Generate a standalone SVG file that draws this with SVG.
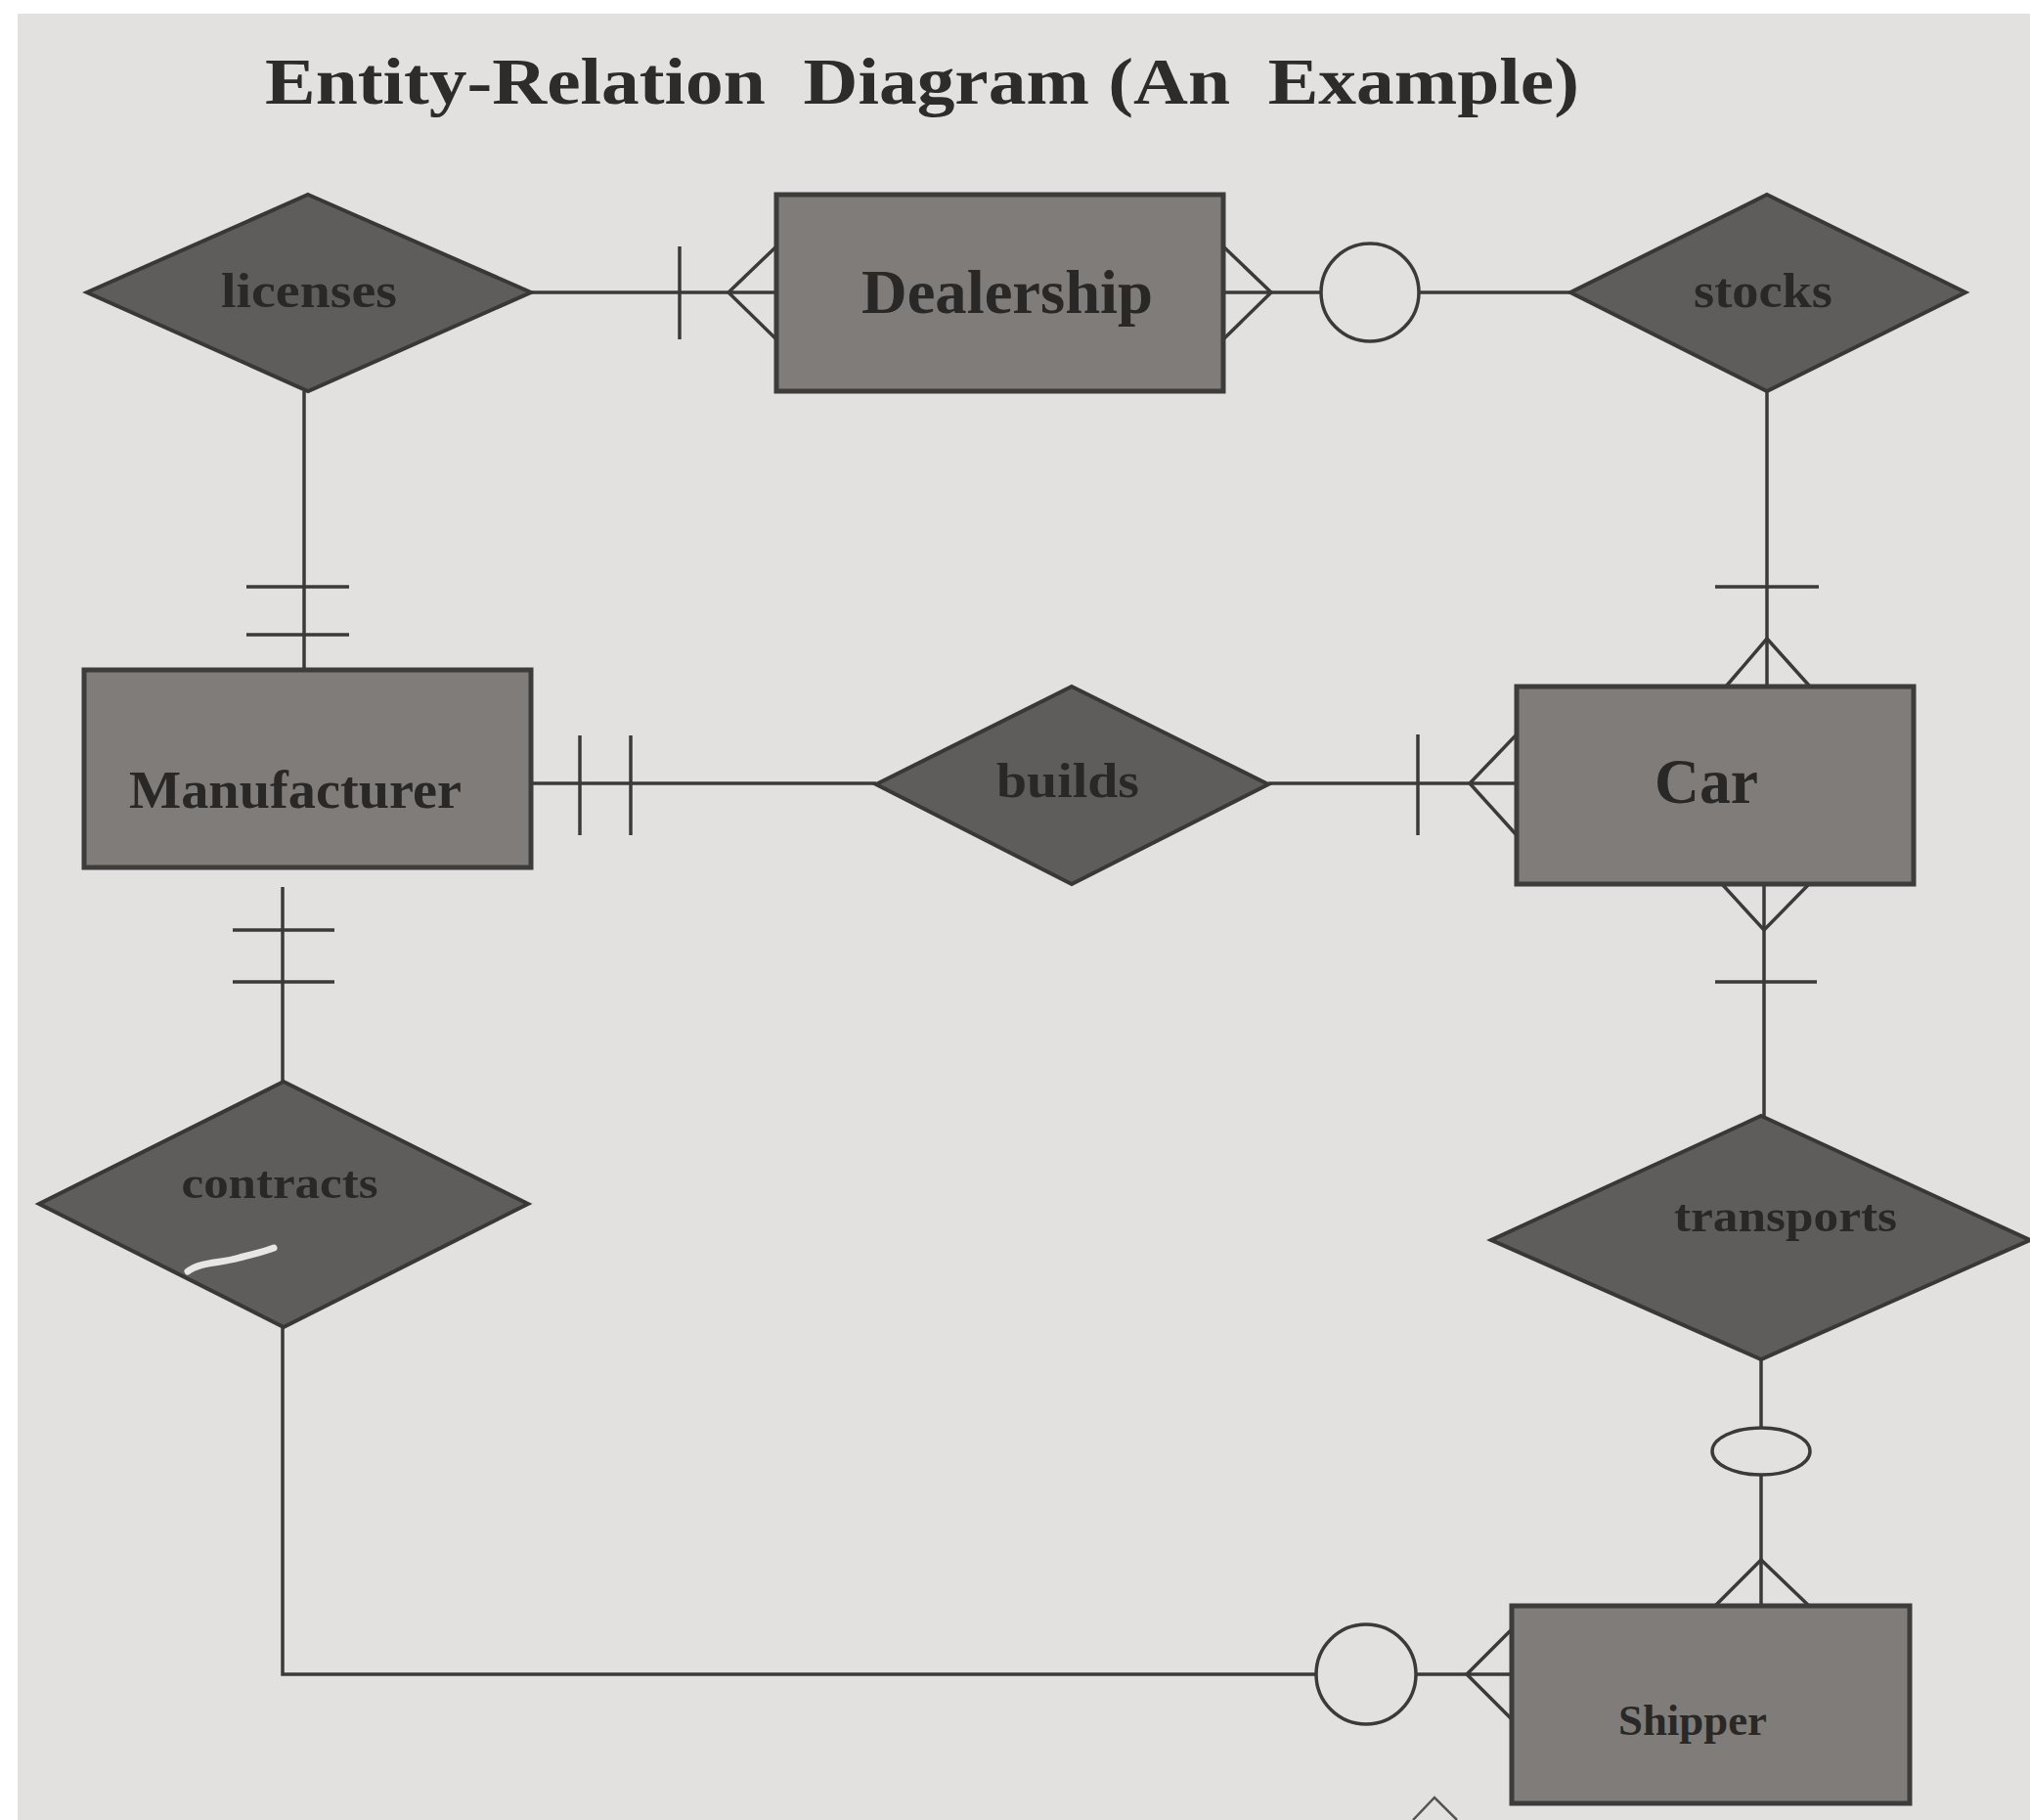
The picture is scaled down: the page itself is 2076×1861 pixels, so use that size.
<svg xmlns="http://www.w3.org/2000/svg" width="2076" height="1861" viewBox="0 0 2076 1861">
<defs>
<style>
.bg{fill:#e3e1e0}
.ent{fill:#7f7c7a;stroke:#3e3c3a;stroke-width:5}
.rel{fill:#5f5d5b;stroke:#3a3836;stroke-width:4}
.ln{stroke:#3c3a38;stroke-width:3.5;fill:none}
.opt{fill:#e3e1e0;stroke:#3c3a38;stroke-width:3.5}
.lbl{font-family:"Liberation Serif","Times New Roman",serif;font-weight:bold;fill:#2a2826;text-anchor:middle}
.title{font-family:"Liberation Serif","Times New Roman",serif;font-weight:bold;fill:#2e2c2b;font-size:68px}
</style>
</defs>
<rect x="0" y="0" width="2076" height="1861" fill="#ffffff"/>
<rect class="bg" x="18" y="14" width="2058" height="1847"/>
<text class="title" x="271" y="106" textLength="1344" lengthAdjust="spacingAndGlyphs" xml:space="preserve">Entity-Relation  Diagram (An  Example)</text>

<g id="connectors">
<!-- licenses - Dealership -->
<line class="ln" x1="543" y1="299" x2="794" y2="299"/>
<line class="ln" x1="695" y1="252" x2="695" y2="347"/>
<polyline class="ln" points="794,252 745,299 794,347"/>
<!-- Dealership - stocks -->
<line class="ln" x1="1251" y1="299" x2="1606" y2="299"/>
<polyline class="ln" points="1251,252 1300,299 1251,347"/>
<circle class="opt" cx="1401" cy="299" r="50"/>
<!-- licenses - Manufacturer -->
<line class="ln" x1="311" y1="400" x2="311" y2="685"/>
<line class="ln" x1="252" y1="600" x2="357" y2="600"/>
<line class="ln" x1="252" y1="649" x2="357" y2="649"/>
<!-- Manufacturer - builds -->
<line class="ln" x1="543" y1="801" x2="896" y2="801"/>
<line class="ln" x1="593" y1="752" x2="593" y2="854"/>
<line class="ln" x1="645" y1="752" x2="645" y2="854"/>
<!-- builds - Car -->
<line class="ln" x1="1297" y1="801" x2="1551" y2="801"/>
<line class="ln" x1="1450" y1="751" x2="1450" y2="854"/>
<polyline class="ln" points="1551,751 1503,801 1551,854"/>
<!-- stocks - Car -->
<line class="ln" x1="1807" y1="400" x2="1807" y2="702"/>
<line class="ln" x1="1754" y1="600" x2="1860" y2="600"/>
<polyline class="ln" points="1765,702 1807,653 1851,702"/>
<!-- Car - transports -->
<line class="ln" x1="1804" y1="904" x2="1804" y2="1141"/>
<polyline class="ln" points="1761,904 1804,951 1850,904"/>
<line class="ln" x1="1754" y1="1004" x2="1858" y2="1004"/>
<!-- transports - Shipper -->
<line class="ln" x1="1801" y1="1390" x2="1801" y2="1642"/>
<ellipse class="opt" cx="1801" cy="1484" rx="50" ry="24"/>
<polyline class="ln" points="1754,1642 1801,1595 1850,1642"/>
<!-- Manufacturer - contracts -->
<line class="ln" x1="289" y1="907" x2="289" y2="1106"/>
<line class="ln" x1="238" y1="951" x2="342" y2="951"/>
<line class="ln" x1="238" y1="1004" x2="342" y2="1004"/>
<!-- contracts - Shipper -->
<polyline class="ln" points="289,1357 289,1712 1546,1712"/>
<polyline class="ln" points="1546,1666 1500,1712 1546,1758"/>
<circle class="opt" cx="1397" cy="1712" r="51"/>
</g>

<g id="licenses">
<polygon class="rel" points="315,199 543,299 315,400 89,299"/>
<text class="lbl" x="316" y="314" font-size="50" textLength="180" lengthAdjust="spacingAndGlyphs">licenses</text>
</g>
<g id="dealership">
<rect class="ent" x="794" y="199" width="457" height="201"/>
<text class="lbl" x="1030" y="320" font-size="64" textLength="298" lengthAdjust="spacingAndGlyphs">Dealership</text>
</g>
<g id="stocks">
<polygon class="rel" points="1807,199 2010,299 1807,400 1606,299"/>
<text class="lbl" x="1803" y="314" font-size="50" textLength="142" lengthAdjust="spacingAndGlyphs">stocks</text>
</g>
<g id="manufacturer">
<rect class="ent" x="86" y="685" width="457" height="202"/>
<text class="lbl" x="302" y="826" font-size="54" textLength="340" lengthAdjust="spacingAndGlyphs">Manufacturer</text>
</g>
<g id="builds">
<polygon class="rel" points="1096,702 1297,802 1096,904 896,802"/>
<text class="lbl" x="1092" y="815" font-size="50" textLength="146" lengthAdjust="spacingAndGlyphs">builds</text>
</g>
<g id="car">
<rect class="ent" x="1551" y="702" width="406" height="202"/>
<text class="lbl" x="1745" y="821" font-size="66" textLength="106" lengthAdjust="spacingAndGlyphs">Car</text>
</g>
<g id="contracts">
<polygon class="rel" points="290,1106 540,1231 290,1357 40,1231"/>
<text class="lbl" x="286" y="1225" font-size="46" textLength="201" lengthAdjust="spacingAndGlyphs">contracts</text>
<path d="M192,1300 C205,1290 225,1292 245,1286 C260,1282 270,1280 280,1276" stroke="#e8e6e4" stroke-width="7" fill="none" stroke-linecap="round"/>
</g>
<g id="transports">
<polygon class="rel" points="1801,1141 2076,1268 1801,1390 1525,1268"/>
<text class="lbl" x="1826" y="1259" font-size="46" textLength="228" lengthAdjust="spacingAndGlyphs">transports</text>
</g>
<g id="shipper">
<rect class="ent" x="1546" y="1642" width="407" height="202"/>
<text class="lbl" x="1731" y="1774" font-size="44" textLength="152" lengthAdjust="spacingAndGlyphs">Shipper</text>
</g>
<polyline points="1445,1861 1467,1838 1490,1861" fill="none" stroke="#555351" stroke-width="2.5"/>
</svg>
